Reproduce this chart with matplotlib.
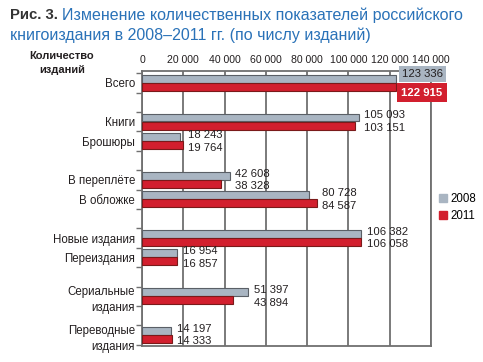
import matplotlib
matplotlib.use('Agg')
import matplotlib.pyplot as plt
from matplotlib.patches import Patch
from matplotlib.ticker import FuncFormatter, FixedLocator

plt.rcParams['font.family'] = ['Liberation Sans', 'DejaVu Sans']

# data
categories = ['Всего', 'Книги', 'Брошюры', 'В переплёте', 'В обложке',
              'Новые издания', 'Переиздания', 'Сериальные\nиздания', 'Переводные\nиздания']
slots = [0, 2, 3, 5, 6, 8, 9, 11, 13]   # row positions, with empty rows between groups
v2008 = [123336, 105093, 18243, 42608, 80728, 106382, 16954, 51397, 14197]
v2011 = [122915, 103151, 19764, 38328, 84587, 106058, 16857, 43894, 14333]
xticks = [0, 20000, 40000, 60000, 80000, 100000, 120000, 140000]

gray = '#a9b5c2'
red = '#d21f2e'
grid_c = '#707070'
text_c = '#231f20'
blue = '#2a72b8'


def fmt(v):
    return f'{int(v):,}'.replace(',', ' ')


fig = plt.figure(figsize=(4.83, 3.62), dpi=100)
fig.patch.set_facecolor('white')
ax = fig.add_axes([0.294, 0.044, 0.598, 0.760])

h = 0.40
ax.barh([s - 0.22 for s in slots], v2008, height=h, color=gray,
        edgecolor='#5a5f66', linewidth=0.8, zorder=3)
ax.barh([s + 0.20 for s in slots], v2011, height=h, color=red,
        edgecolor='#7a1a1a', linewidth=0.8, zorder=3)

ax.set_xlim(0, 140000)
ax.set_ylim(13.57, -0.62)

ax.xaxis.tick_top()
ax.set_xticks(xticks)
ax.xaxis.set_major_formatter(FuncFormatter(lambda v, p: fmt(v)))
ax.tick_params(axis='x', length=0, pad=4, labelsize=7.6, colors=text_c)
ax.grid(axis='x', color=grid_c, linewidth=1.3, zorder=1)

ax.set_yticks(slots)
ax.set_yticklabels(categories, fontsize=8.3, color=text_c, linespacing=1.45)
ax.tick_params(axis='y', length=0, pad=5)
ax.yaxis.set_minor_locator(FixedLocator([s + 0.5 for s in range(-1, 14)]))
ax.tick_params(axis='y', which='minor', length=4, color=grid_c, width=1)

for sp in ax.spines.values():
    sp.set_color(grid_c)
    sp.set_linewidth(1.3)

# value labels
for i, (s, a, b) in enumerate(zip(slots, v2008, v2011)):
    if i == 0:
        ax.annotate(fmt(a), (a, s - 0.45), xytext=(4, 0), textcoords='offset points',
                    ha='left', va='center', fontsize=8.1, color=text_c, zorder=5,
                    bbox=dict(boxstyle='square,pad=0.25', fc=gray, ec='none'))
        ax.annotate(fmt(b), (b, s + 0.5), xytext=(4, 0), textcoords='offset points',
                    ha='left', va='center', fontsize=8.2, fontweight='bold', color='white',
                    zorder=5, bbox=dict(boxstyle='square,pad=0.4', fc=red, ec='none'))
        continue
    m = max(a, b)
    ax.annotate(fmt(a), (m, s - 0.33), xytext=(4, 0), textcoords='offset points',
                ha='left', va='center', fontsize=8.1, color=text_c)
    ax.annotate(fmt(b), (m, s + 0.33), xytext=(4, 0), textcoords='offset points',
                ha='left', va='center', fontsize=8.1, color=text_c)

# axis caption
fig.text(62 / 483, 1 - 63 / 362, 'Количество\nизданий', ha='center', va='center',
         fontsize=8, fontweight='bold', color=text_c, linespacing=1.4)

# legend
handles = [Patch(color=gray, label='2008'), Patch(color=red, label='2011')]
fig.legend(handles=handles, loc='upper left', bbox_to_anchor=(0.897, 0.482),
           frameon=False, fontsize=8.3, handlelength=0.7, handleheight=0.7,
           handletextpad=0.25, labelspacing=0.4, borderpad=0)

# title, sized to fit the reference line widths
renderer = fig.canvas.get_renderer()


def fit(t, target_px, fs):
    t.set_fontsize(fs)
    w = t.get_window_extent(renderer).width
    t.set_fontsize(fs * target_px / w)


t0 = fig.text(10 / 483, 1 - 15 / 362, 'Рис. 3.', ha='left', va='center',
              fontweight='bold', color='#333333')
fit(t0, 48, 12)
t1 = fig.text(62 / 483, 1 - 15 / 362, 'Изменение количественных показателей российского',
              ha='left', va='center', color=blue)
fit(t1, 400, 12)
t2 = fig.text(10 / 483, 1 - 35 / 362, 'книгоиздания в 2008–2011 гг. (по числу изданий)',
              ha='left', va='center', color=blue)
fit(t2, 361, 12)

plt.savefig('out.png', dpi=100)
